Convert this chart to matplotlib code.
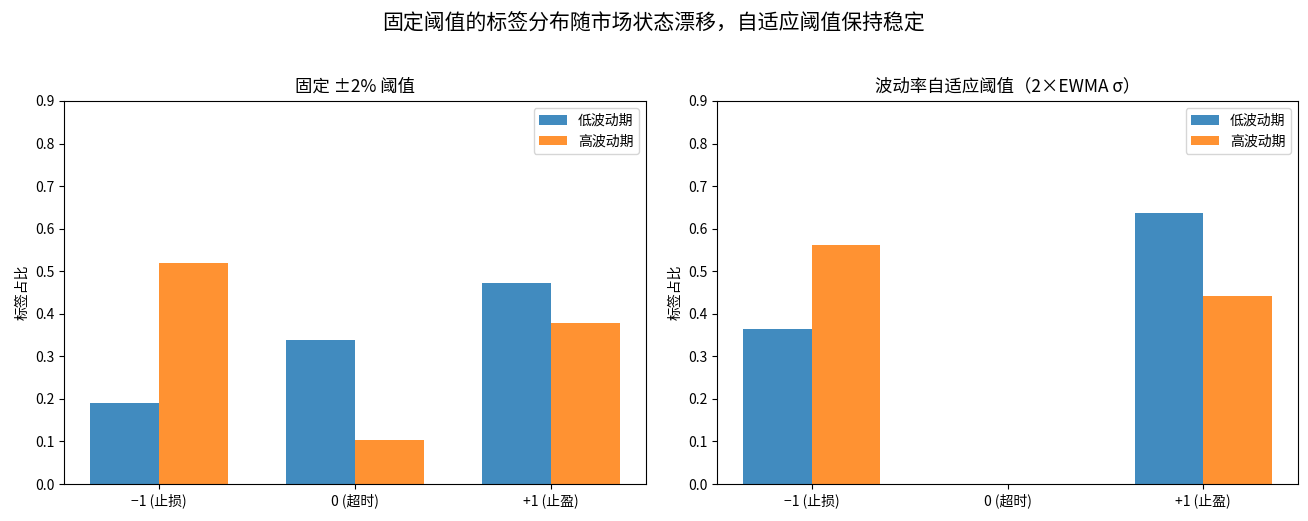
import matplotlib
matplotlib.use("Agg")
import matplotlib.pyplot as plt
import numpy as np

plt.rcParams['font.family'] = ['Noto Sans CJK SC', 'DejaVu Sans']
plt.rcParams['axes.unicode_minus'] = True

categories = ['\u22121 (止损)', '0 (超时)', '+1 (止盈)']
series_names = ['低波动期', '高波动期']
fixed_low = [0.190, 0.338, 0.472]
fixed_high = [0.519, 0.103, 0.378]
adapt_low = [0.364, 0.0, 0.637]
adapt_high = [0.562, 0.0, 0.442]
titles = ['固定 ±2% 阈值', '波动率自适应阈值（2×EWMA σ）']
suptitle = '固定阈值的标签分布随市场状态漂移，自适应阈值保持稳定'
ylabel = '标签占比'

W, H = 1308, 521
fig = plt.figure(figsize=(W / 100, H / 100), dpi=100)
ax1 = fig.add_axes([64 / W, 1 - 484 / H, 582 / W, 383 / H])
ax2 = fig.add_axes([717 / W, 1 - 484 / H, 581 / W, 383 / H])

x = np.arange(len(categories))
w = 0.35
colors = ['#1f77b4', '#ff7f0e']
for ax, lo, hi, t in [(ax1, fixed_low, fixed_high, titles[0]),
                      (ax2, adapt_low, adapt_high, titles[1])]:
    ax.bar(x - w / 2, lo, w, color=colors[0], alpha=0.85, label=series_names[0])
    ax.bar(x + w / 2, hi, w, color=colors[1], alpha=0.85, label=series_names[1])
    ax.set_xticks(x)
    ax.set_xticklabels(categories, fontsize=10)
    ax.set_ylim(0, 0.9)
    ax.set_yticks(np.arange(0, 0.91, 0.1))
    ax.set_yticklabels([f'{v:.1f}' for v in np.arange(0, 0.91, 0.1)], fontsize=10)
    ax.set_ylabel(ylabel, fontsize=10)
    ax.set_title(t, fontsize=12.5, pad=7)
    ax.legend(loc='upper right', fontsize=10)

fig.suptitle(suptitle, fontsize=15, y=0.975)
fig.savefig('out.png', dpi=100)
